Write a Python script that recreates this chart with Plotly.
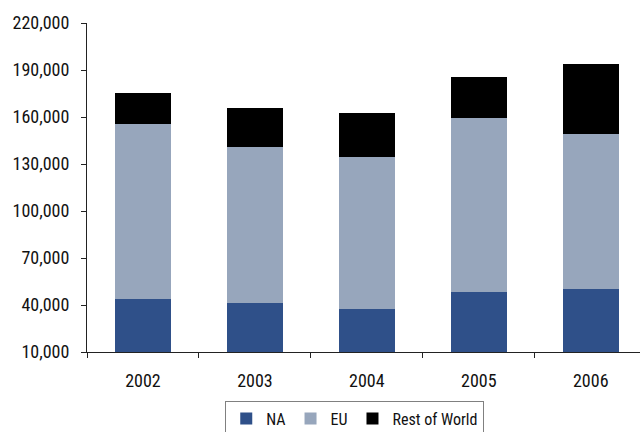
import plotly.graph_objects as go

years = ["2002", "2003", "2004", "2005", "2006"]
na = [43600, 41000, 37200, 48100, 50000]
eu = [111700, 99600, 97000, 111000, 98900]
row = [19800, 24900, 28100, 26200, 44700]
y_ticks = [10000, 40000, 70000, 100000, 130000, 160000, 190000, 220000]

FONT = "Liberation Sans Narrow, Roboto Condensed, Roboto, sans-serif"

fig = go.Figure()
fig.add_trace(go.Bar(x=years, y=na, name="NA", marker=dict(color="#2F5089", line=dict(width=0))))
fig.add_trace(go.Bar(x=years, y=eu, name="EU", marker=dict(color="#97A6BC", line=dict(width=0))))
fig.add_trace(go.Bar(x=years, y=row, name="Rest of World", marker=dict(color="#000000", line=dict(width=0))))

fig.update_layout(
    barmode="stack",
    bargap=0.5,
    width=640, height=432,
    margin=dict(l=87, r=0, t=23, b=80, autoexpand=False),
    paper_bgcolor="white", plot_bgcolor="white",
    font=dict(family=FONT, size=18, color="#111111"),
    showlegend=True,
    legend=dict(
        orientation="h", x=0.25, xanchor="left", y=-0.148, yanchor="top",
        bordercolor="#808080", borderwidth=1, font=dict(size=16, family=FONT),
        itemwidth=30, traceorder="normal", tracegroupgap=0,
    ),
    xaxis=dict(
        type="category", range=[-0.5, 4.44],
        showline=True, linecolor="#222222", linewidth=1,
        ticks="outside", tickson="boundaries", ticklen=5, tickcolor="#222222",
        showgrid=False, tickfont=dict(size=18), automargin=False,
        ticklabelstandoff=12,
    ),
    yaxis=dict(
        range=[10000, 220000], tickvals=y_ticks, tickformat=",d",
        showline=True, linecolor="#222222", linewidth=1,
        ticks="outside", ticklen=5, tickcolor="#222222",
        showgrid=False, zeroline=False, tickfont=dict(size=18), automargin=False,
        ticklabelstandoff=8,
    ),
)

fig.write_html("out.html")
